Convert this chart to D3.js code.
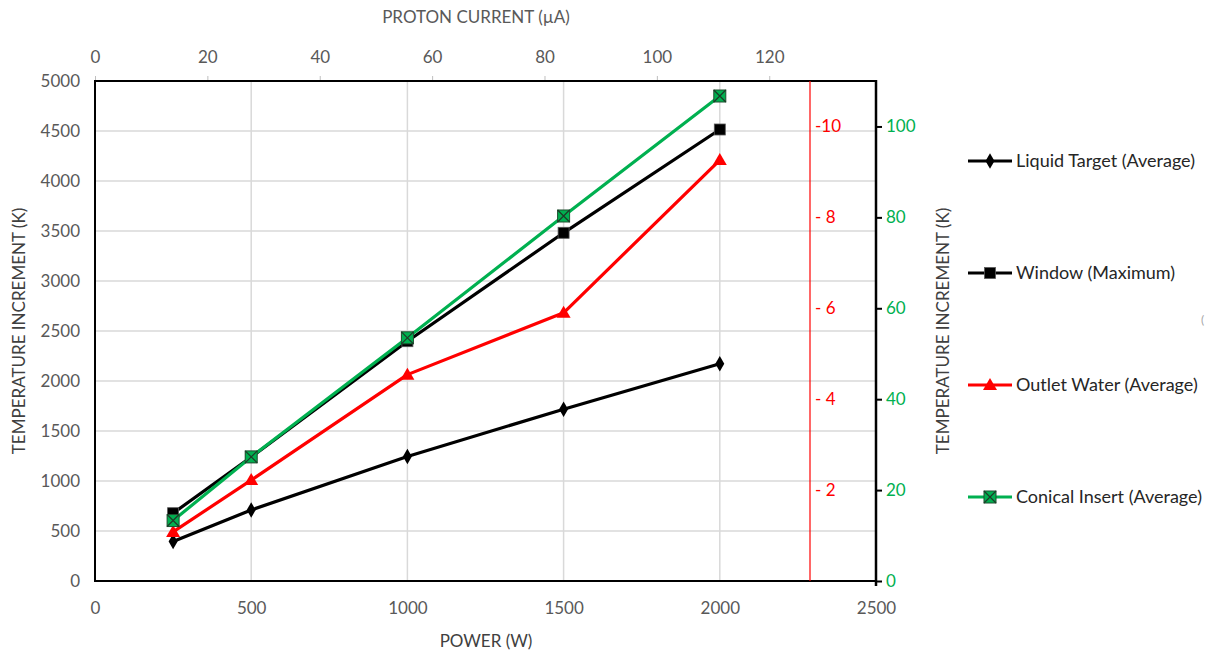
<!DOCTYPE html>
<html><head><meta charset="utf-8">
<script src="https://cdn.jsdelivr.net/npm/d3@7"></script>
<style>body{margin:0;background:#fff;} svg{display:block;font-family:Lato,"Open Sans",sans-serif;}</style>
</head><body>
<svg id="c" width="1214" height="655"></svg>
<script>
const power = [250, 500, 1000, 1500, 2000];
const liquidTarget = [395, 710, 1245, 1718, 2172];
const windowMax = [678, 1240, 2398, 3482, 4515];
const outletWater = [1.08, 2.22, 4.54, 5.9, 9.26];
const conicalInsert = [13.3, 27.3, 53.5, 80.3, 106.7];
const bottomTicks = [0, 500, 1000, 1500, 2000, 2500];
const leftTicks = [0, 500, 1000, 1500, 2000, 2500, 3000, 3500, 4000, 4500, 5000];
const topTicks = [0, 20, 40, 60, 80, 100, 120];
const redTicks = [2, 4, 6, 8, 10];
const greenTicks = [0, 20, 40, 60, 80, 100];
const seriesNames = ["Liquid Target (Average)", "Window (Maximum)", "Outlet Water (Average)", "Conical Insert (Average)"];

const svg = d3.select("#c");
const L = 95, R = 876, T = 81, B = 581;
const x = d3.scaleLinear([0, 2500], [L, R]);
const xTop = d3.scaleLinear([0, 139], [L, R]);
const y = d3.scaleLinear([0, 5000], [B, T]);
const yRed = d3.scaleLinear([0, 11], [B, T]);
const yGreen = d3.scaleLinear([0, 110], [B, T]);
const redX = 810;
const gray = "#595959", RED = "#ff0000", GREEN = "#00b050";
const fmt = d3.format("d");

// gridlines
svg.append("g").selectAll("line").data(leftTicks.filter(d => d > 0 && d < 5000)).join("line")
  .attr("x1", L).attr("x2", R).attr("y1", d => y(d)).attr("y2", d => y(d))
  .attr("stroke", "#d9d9d9").attr("stroke-width", 1.5);
svg.append("g").selectAll("line").data(bottomTicks.filter(d => d > 0 && d < 2500)).join("line")
  .attr("y1", T).attr("y2", B).attr("x1", d => x(d)).attr("x2", d => x(d))
  .attr("stroke", "#d9d9d9").attr("stroke-width", 1.5);

// axes
function styleAxis(g, color, fs) {
  g.select(".domain").remove();
  g.selectAll("text").attr("fill", color).attr("font-size", fs).attr("font-family", "Lato, 'Open Sans', sans-serif");
  g.selectAll("line").attr("stroke", color);
}
const gB = svg.append("g").attr("transform", `translate(0,${B})`)
  .call(d3.axisBottom(x).tickValues(bottomTicks).tickFormat(fmt).tickSize(0).tickPadding(21));
styleAxis(gB, gray, 17);
const gL = svg.append("g").attr("transform", `translate(${L},0)`)
  .call(d3.axisLeft(y).tickValues(leftTicks).tickFormat(fmt).tickSize(0).tickPadding(15));
styleAxis(gL, gray, 17);
const gT = svg.append("g").attr("transform", `translate(0,${T})`)
  .call(d3.axisTop(xTop).tickValues(topTicks).tickFormat(fmt).tickSize(5).tickPadding(13));
styleAxis(gT, gray, 17);
gT.selectAll("line").attr("stroke", "#bfbfbf");
const gR = svg.append("g").attr("transform", `translate(${R},0)`)
  .call(d3.axisRight(yGreen).tickValues(greenTicks).tickFormat(fmt).tickSize(6).tickPadding(4));
styleAxis(gR, GREEN, 17);
gR.selectAll("line").attr("stroke", "#000").attr("stroke-width", 2);
const gRed = svg.append("g").attr("transform", `translate(${redX},0)`)
  .call(d3.axisRight(yRed).tickValues(redTicks).tickSize(0).tickPadding(0).tickFormat(d => d < 10 ? "- " + d : "-" + d));
styleAxis(gRed, RED, 17);
gRed.selectAll("text").attr("x", 5);

// axis lines
svg.append("line").attr("x1", L).attr("x2", R).attr("y1", T).attr("y2", T).attr("stroke", "#000").attr("stroke-width", 2);
svg.append("line").attr("x1", L).attr("x2", R + 1).attr("y1", B).attr("y2", B).attr("stroke", "#000").attr("stroke-width", 2);
svg.append("line").attr("x1", L).attr("x2", L).attr("y1", T - 1).attr("y2", B + 1).attr("stroke", "#000").attr("stroke-width", 2);
svg.append("line").attr("x1", R).attr("x2", R).attr("y1", T - 1).attr("y2", B + 5).attr("stroke", "#000").attr("stroke-width", 2.5);
svg.append("line").attr("x1", redX).attr("x2", redX).attr("y1", T).attr("y2", B).attr("stroke", RED).attr("stroke-width", 1.2);

// titles
svg.append("text").attr("x", 476).attr("y", 23).attr("text-anchor", "middle").attr("fill", gray).attr("font-size", 17).text("PROTON CURRENT (\u00b5A)");
svg.append("text").attr("x", 486).attr("y", 647).attr("text-anchor", "middle").attr("fill", "#404040").attr("font-size", 17).text("POWER (W)");
svg.append("text").attr("transform", "translate(25,331) rotate(-90)").attr("text-anchor", "middle").attr("fill", "#404040").attr("font-size", 17).text("TEMPERATURE INCREMENT (K)");
svg.append("text").attr("transform", "translate(949,331) rotate(-90)").attr("text-anchor", "middle").attr("fill", "#404040").attr("font-size", 17).text("TEMPERATURE INCREMENT (K)");
svg.append("text").attr("x", 1201).attr("y", 324).attr("fill", "#a6a6a6").attr("font-size", 12).text("(");

// markers
function marker(g, type, cx, cy, color) {
  if (type === "diamond") {
    g.append("path").attr("d", d3.symbol(d3.symbolDiamond, 70)()).attr("transform", `translate(${cx},${cy})`).attr("fill", "#000");
  } else if (type === "square") {
    g.append("rect").attr("x", cx - 5.5).attr("y", cy - 5.5).attr("width", 11).attr("height", 11).attr("fill", "#000").attr("stroke", "#595959").attr("stroke-width", 0.8);
  } else if (type === "triangle") {
    g.append("path").attr("d", `M${cx},${cy - 7}L${cx + 7},${cy + 5}L${cx - 7},${cy + 5}Z`).attr("fill", RED);
  } else {
    g.append("rect").attr("x", cx - 6).attr("y", cy - 6).attr("width", 12).attr("height", 12).attr("fill", GREEN).attr("stroke", "#1e4e2e").attr("stroke-width", 1);
    g.append("path").attr("d", `M${cx - 6},${cy - 6}L${cx + 6},${cy + 6}M${cx + 6},${cy - 6}L${cx - 6},${cy + 6}`).attr("stroke", "#1e3a28").attr("stroke-width", 1.2);
  }
}

const series = [
  {vals: liquidTarget, sc: y, color: "#000", m: "diamond"},
  {vals: windowMax, sc: y, color: "#000", m: "square"},
  {vals: outletWater, sc: yRed, color: RED, m: "triangle"},
  {vals: conicalInsert, sc: yGreen, color: GREEN, m: "xsquare"}
];
const drawOrder = [0, 2, 1, 3];
drawOrder.forEach(i => {
  const s = series[i];
  const pts = power.map((p, j) => [x(p), s.sc(s.vals[j])]);
  svg.append("path").attr("d", d3.line()(pts)).attr("fill", "none").attr("stroke", s.color).attr("stroke-width", 3.2).attr("stroke-linejoin", "round");
  const g = svg.append("g");
  pts.forEach(p => marker(g, s.m, p[0], p[1], s.color));
});

// legend
const legY = [161, 273, 385, 497];
series.forEach((s, i) => {
  const g = svg.append("g");
  g.append("line").attr("x1", 968).attr("x2", 1012).attr("y1", legY[i]).attr("y2", legY[i]).attr("stroke", s.color).attr("stroke-width", 3.2);
  marker(g, s.m, 990, legY[i], s.color);
  g.append("text").attr("x", 1016).attr("y", legY[i] + 6).attr("fill", "#262626").attr("font-size", 18).text(seriesNames[i]);
});
</script>
</body></html>
